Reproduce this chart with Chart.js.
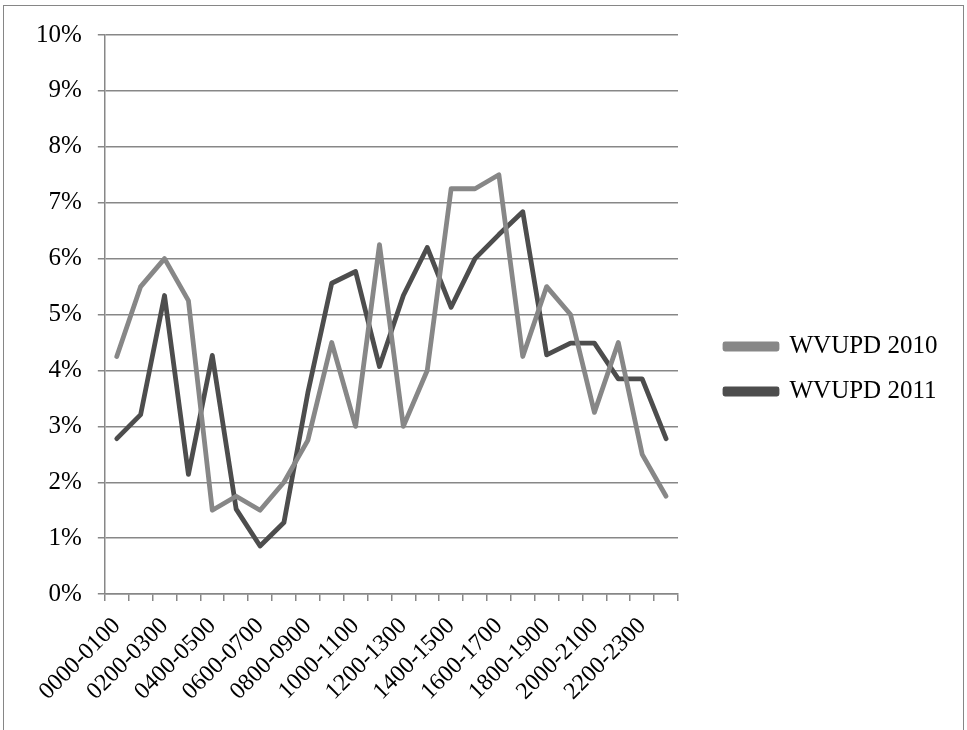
<!DOCTYPE html>
<html>
<head>
<meta charset="utf-8">
<script src="https://cdn.jsdelivr.net/npm/chart.js@4.4.1/dist/chart.umd.min.js"></script>
<style>
  html, body { margin: 0; padding: 0; background: #ffffff; }
  #wrap { position: relative; width: 967px; height: 730px; overflow: hidden; }
  #frame { position: absolute; left: 3px; top: 5px; width: 961px; height: 800px; border: 1.5px solid #868686; box-sizing: border-box; }
  canvas { position: absolute; left: 0; top: 0; }
</style>
</head>
<body>
<div id="wrap">
  <div id="frame"></div>
  <canvas id="c" width="967" height="730"></canvas>
</div>
<script>
const categories = [
  "0000-0100","0100-0200","0200-0300","0300-0400","0400-0500","0500-0600",
  "0600-0700","0700-0800","0800-0900","0900-1000","1000-1100","1100-1200",
  "1200-1300","1300-1400","1400-1500","1500-1600","1600-1700","1700-1800",
  "1800-1900","1900-2000","2000-2100","2100-2200","2200-2300","2300-2400"
];
const seriesNames = ["WVUPD 2010", "WVUPD 2011"];
const wvupd2010 = [4.25, 5.5, 6.0, 5.25, 1.5, 1.75, 1.5, 2.0, 2.75, 4.5, 3.0, 6.25,
                   3.0, 4.0, 7.25, 7.25, 7.5, 4.25, 5.5, 5.0, 3.25, 4.5, 2.5, 1.75];
const wvupd2011 = [2.78, 3.21, 5.34, 2.14, 4.27, 1.52, 0.86, 1.28, 3.6, 5.56, 5.77, 4.07,
                   5.34, 6.2, 5.13, 6.0, 6.43, 6.84, 4.28, 4.49, 4.49, 3.85, 3.85, 2.78];
const yMin = 0, yMax = 10, yStep = 1;

const FONT = "'Liberation Serif', 'Times New Roman', serif";
const GRID = "#878787";

const legendShift = {
  id: 'legendShift',
  beforeInit(chart) {
    const lg = chart.legend;
    if (lg) {
      const fit = lg.fit;
      lg.fit = function () { fit.call(this); this.width = 289; };
    }
  },
  afterLayout(chart) {
    const lg = chart.legend;
    if (lg) { lg.left += 27; lg.right += 27; lg.top -= 7; lg.bottom -= 7; }
  }
};

new Chart(document.getElementById('c'), {
  type: 'line',
  data: {
    labels: categories,
    datasets: [
      { label: seriesNames[0], data: wvupd2010, borderColor: '#878787', backgroundColor: '#878787',
        borderWidth: 4.8, pointRadius: 0, tension: 0, borderJoinStyle: 'round', borderCapStyle: 'round' },
      { label: seriesNames[1], data: wvupd2011, borderColor: '#4d4d4d', backgroundColor: '#4d4d4d',
        borderWidth: 4.8, pointRadius: 0, tension: 0, borderJoinStyle: 'round', borderCapStyle: 'round' }
    ]
  },
  options: {
    responsive: false,
    animation: false,
    devicePixelRatio: 1,
    layout: { padding: { left: 20, top: 35, right: 0, bottom: 13 } },
    plugins: {
      legend: {
        position: 'right',
        align: 'center',
        labels: {
          boxWidth: 52, boxHeight: 5, padding: 20,
          color: '#000', font: { family: FONT, size: 25 }
        }
      },
      tooltip: { enabled: false }
    },
    scales: {
      x: {
        offset: true,
        grid: { offset: true, drawOnChartArea: false, drawTicks: true, tickLength: 7, color: GRID, lineWidth: 1.5 },
        border: { color: GRID, width: 1.5 },
        ticks: {
          autoSkip: false, maxRotation: 45, minRotation: 45, padding: 11,
          color: '#000', font: { family: FONT, size: 24 },
          callback: function (v, i) { return i % 2 === 0 ? categories[i] : ''; }
        }
      },
      y: {
        min: yMin, max: yMax,
        grid: { color: GRID, lineWidth: 1.5, tickLength: 7 },
        border: { color: GRID, width: 1.5 },
        ticks: {
          stepSize: yStep, padding: 16, color: '#000', font: { family: FONT, size: 25 },
          callback: v => v + '%'
        }
      }
    }
  },
  plugins: [legendShift]
});
</script>
</body>
</html>
